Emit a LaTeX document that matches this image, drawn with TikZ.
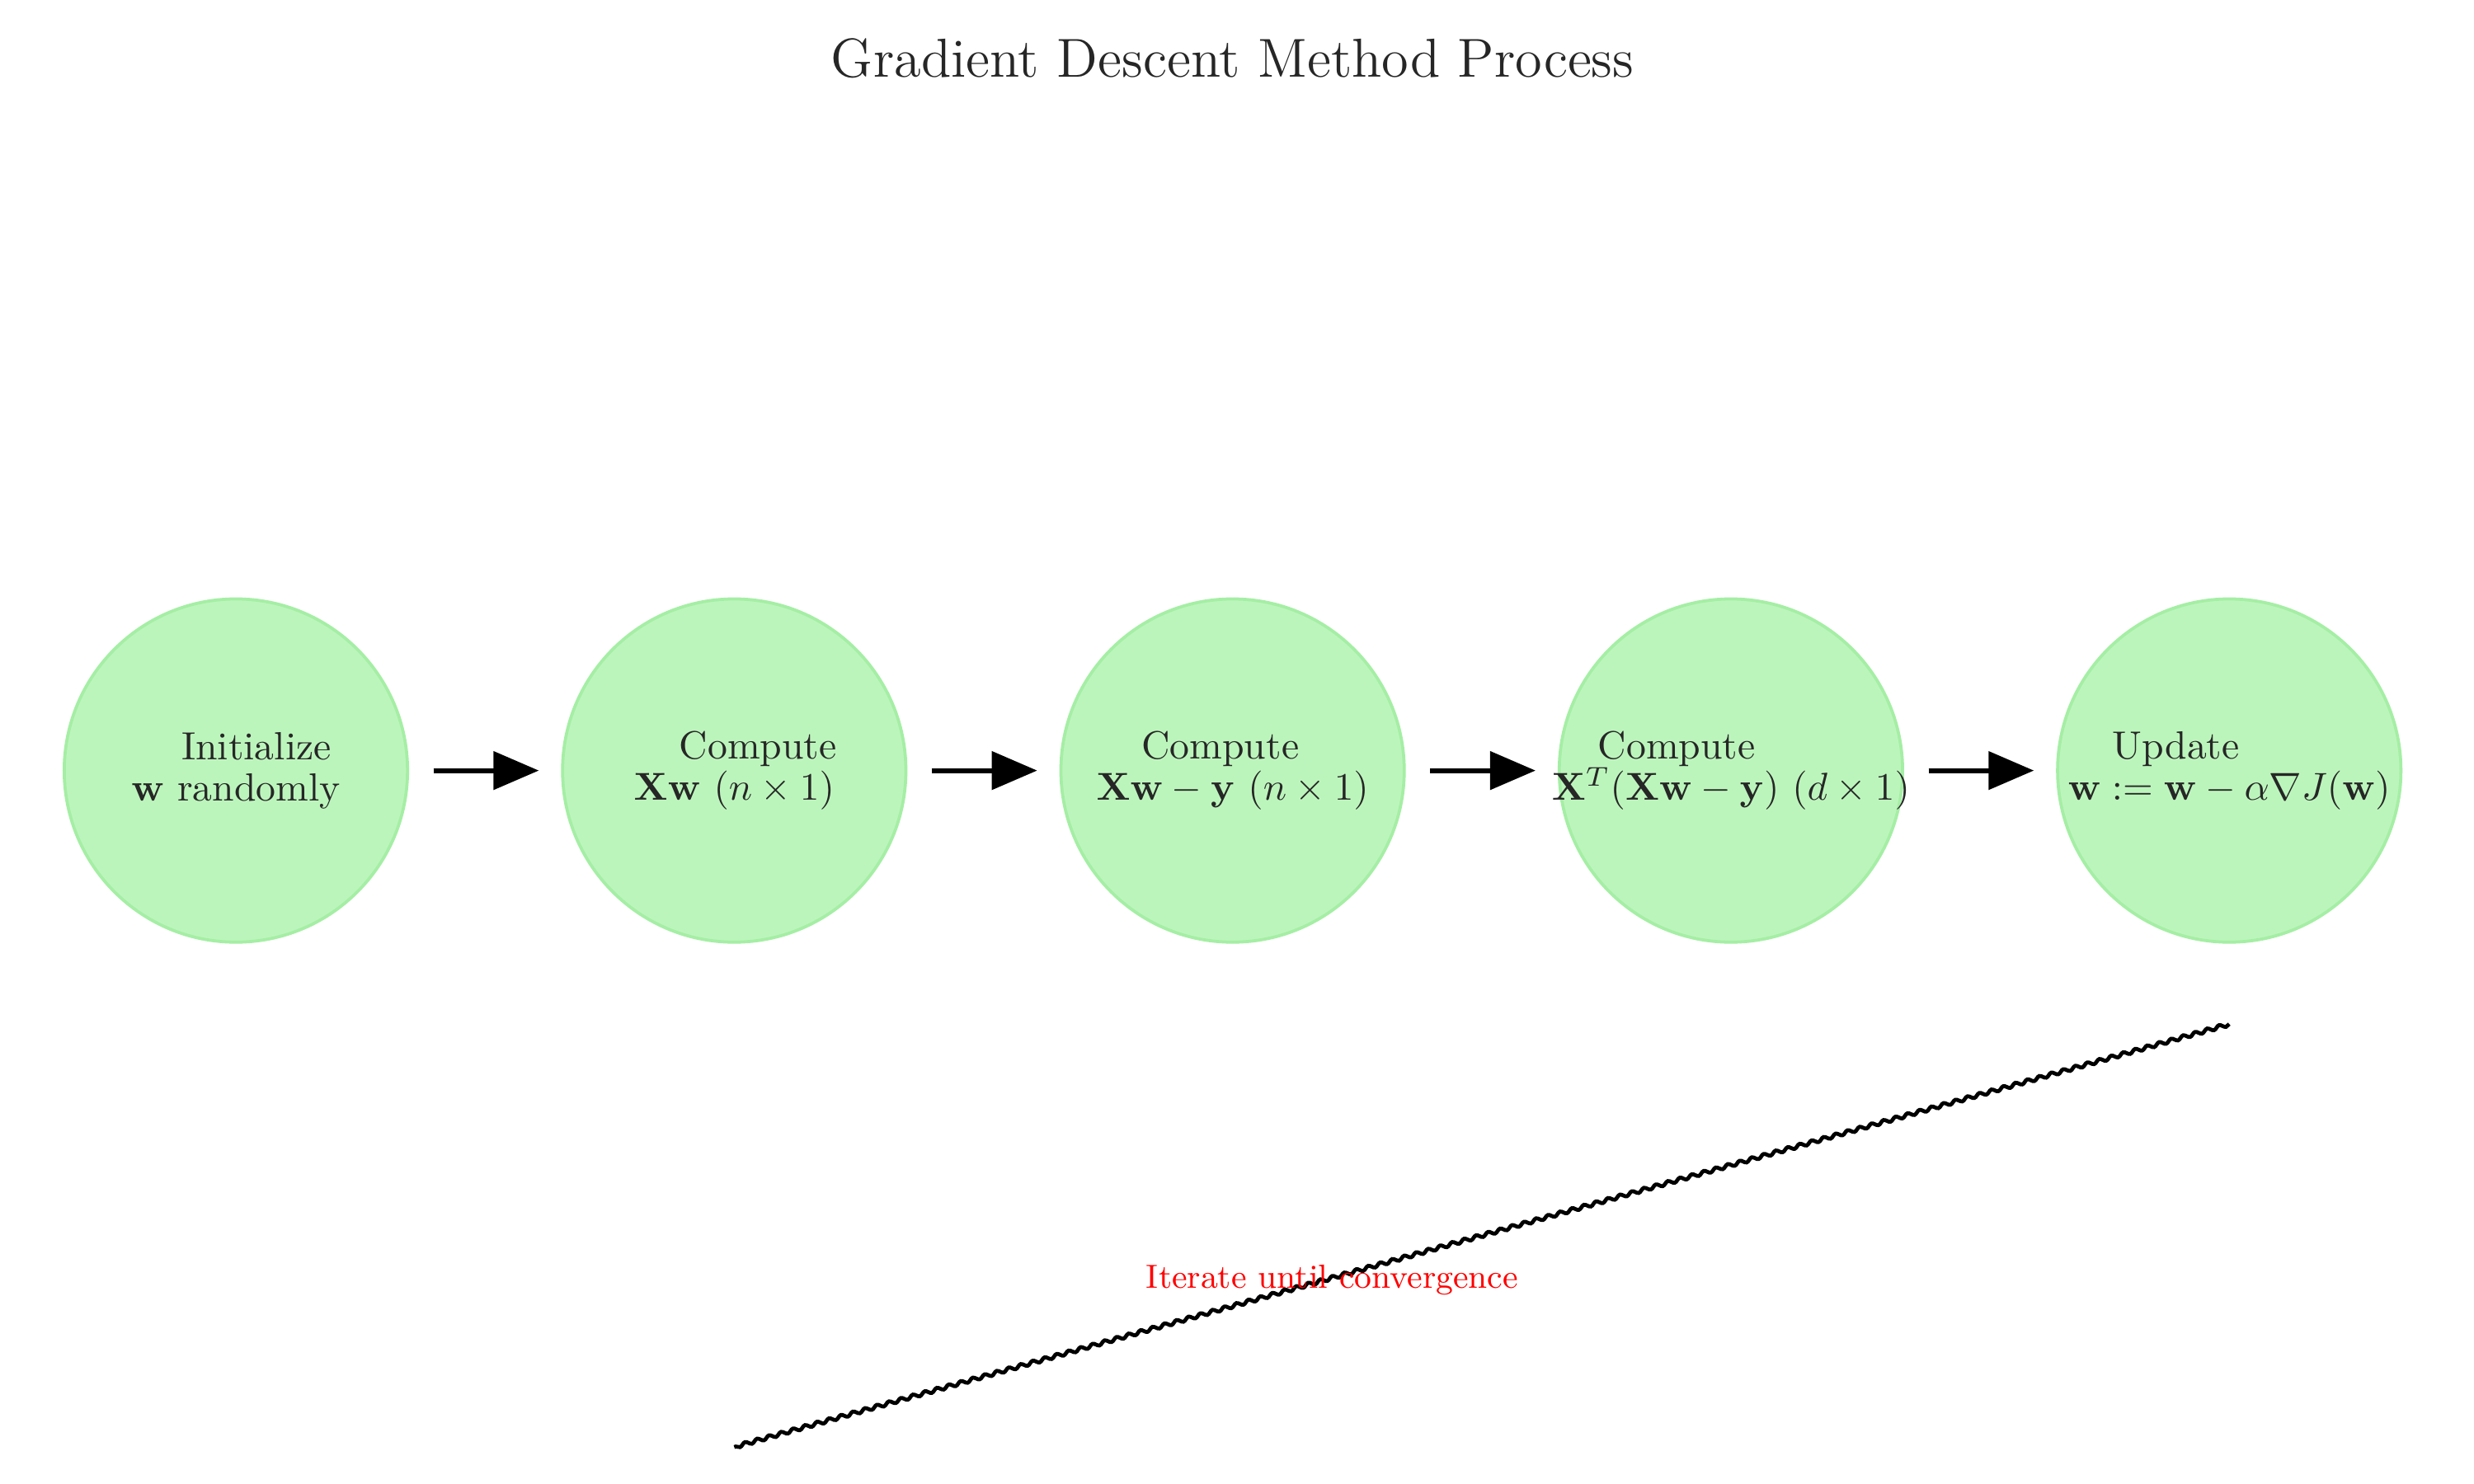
\documentclass[tikz,border=0pt]{standalone}
\usetikzlibrary{arrows.meta,decorations.pathmorphing}
\definecolor{stagefill}{RGB}{188,245,188}
\definecolor{stageedge}{RGB}{165,238,165}
\definecolor{inktext}{RGB}{38,38,38}
\newcommand{\firstln}[2]{\makebox[0pt]{\kern#1\relax #2}}
\tikzset{
  stage/.style={circle, fill=stagefill, draw=stageedge, line width=0.8pt, minimum size=3.1cm, inner sep=0pt},
  stagetext/.style={align=center, text=inktext, inner sep=0pt, font=\fontsize{10.1}{10.6}\selectfont},
  flow/.style={-{Triangle[length=4.1mm,width=3.4mm]}, line width=1.3pt, black, shorten <=0.22cm, shorten >=0.2cm},
  loopline/.style={line width=1pt, black, decorate, decoration={snake, amplitude=0.45pt, segment length=3.2pt}},
  looplabel/.style={text=red, font=\fontsize{8.6}{10}\selectfont, inner sep=0pt}
}
\begin{document}
\begin{tikzpicture}
\useasboundingbox (-2.13,-6.44) rectangle (20.21,6.96);
\node[text=inktext, font=\fontsize{14.1}{17}\selectfont] (title) at (9,6.43) {Gradient Descent Method Process};

\node[stage] (c1) at (0,0) {};
\node[stage] (c2) at (4.5,0) {};
\node[stage] (c3) at (9,0) {};
\node[stage] (c4) at (13.5,0) {};
\node[stage] (c5) at (18,0) {};

\node[stagetext] (t1) at (c1.center) {\firstln{0.37cm}{Initialize}\\ $\mathbf{w}$ randomly};
\node[stagetext] (t2) at (c2.center) {\firstln{0.43cm}{Compute}\\ $\mathbf{X}\mathbf{w}$ $(n \times 1)$};
\node[stagetext] (t3) at (c3.center) {\firstln{-0.22cm}{Compute}\\ $\mathbf{X}\mathbf{w} - \mathbf{y}$ $(n \times 1)$};
\node[stagetext] (t4) at (c4.center) {\firstln{-0.98cm}{Compute}\\ $\mathbf{X}^T(\mathbf{X}\mathbf{w} - \mathbf{y})$ $(d \times 1)$};
\node[stagetext] (t5) at (c5.center) {\firstln{-0.96cm}{Update}\\ $\mathbf{w} := \mathbf{w} - \alpha \nabla J(\mathbf{w})$};

\draw[flow] (c1) -- (c2);
\draw[flow] (c2) -- (c3);
\draw[flow] (c3) -- (c4);
\draw[flow] (c4) -- (c5);

\coordinate (loopA) at ([yshift=-2.29cm]c5.center);
\coordinate (loopB) at ([yshift=-6.11cm]c2.center);
\draw[loopline] (loopA) -- (loopB);
\node[looplabel] (iterlabel) at (9.9,-4.6) {Iterate until convergence};
\end{tikzpicture}
\end{document}
